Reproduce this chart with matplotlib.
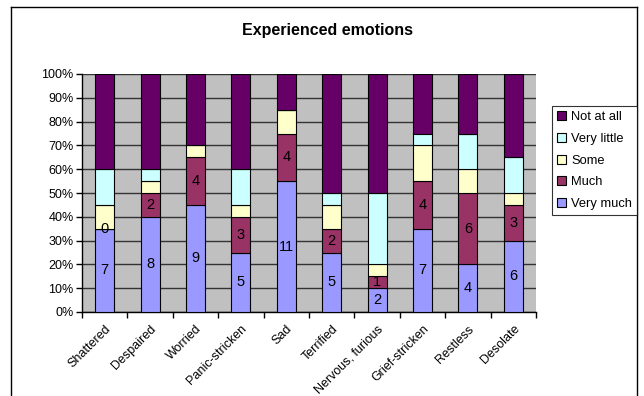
import numpy as np
import matplotlib
matplotlib.use('Agg')
import matplotlib.pyplot as plt
from matplotlib.lines import Line2D
from matplotlib.patches import Patch

plt.rcParams['font.family'] = ['Liberation Sans', 'DejaVu Sans']

# number of answers per emotion (20 respondents)
categories = ['Shattered', 'Despaired', 'Worried', 'Panic-stricken', 'Sad',
              'Terrified', 'Nervous, furious', 'Grief-stricken', 'Restless', 'Desolate']
very_much = [7, 8, 9, 5, 11, 5, 2, 7, 4, 6]
much = [0, 2, 4, 3, 4, 2, 1, 4, 6, 3]
some = [2, 1, 1, 1, 2, 2, 1, 3, 2, 1]
very_little = [3, 1, 0, 3, 0, 1, 6, 1, 3, 3]
not_at_all = [8, 8, 6, 8, 3, 10, 10, 5, 5, 7]

series = [
    ('Very much', very_much, '#9999FF', True),
    ('Much', much, '#993366', True),
    ('Some', some, '#FFFFCC', False),
    ('Very little', very_little, '#CCFFFF', False),
    ('Not at all', not_at_all, '#660066', False),
]

W, H = 644, 396
fig = plt.figure(figsize=(W / 100, H / 100), dpi=100)
ax = fig.add_axes([82 / W, 1 - 312 / H, (536 - 82) / W, (312 - 74) / H])
ax.set_facecolor('#C0C0C0')

totals = np.sum([np.array(s[1]) for s in series], axis=0)
x = np.arange(len(categories))
bottom = np.zeros(len(categories))
for name, vals, color, labelled in series:
    vals = np.array(vals, dtype=float)
    pct = vals / totals * 100
    ax.bar(x, pct, 0.42, bottom=bottom, color=color, edgecolor='black',
           linewidth=0.8, label=name, zorder=3)
    if labelled:
        for xi, v, p, b in zip(x, vals, pct, bottom):
            ax.text(xi, b + p / 2, '%d' % v, ha='center', va='center',
                    fontsize=10.5, color='black', zorder=4)
    bottom += pct

ax.set_xlim(-0.5, len(categories) - 0.5)
ax.set_ylim(0, 100)
ax.set_yticks(np.arange(0, 101, 10))
ax.set_yticklabels(['%d%%' % v for v in range(0, 101, 10)], fontsize=9)
ax.yaxis.grid(True, color='#333333', linewidth=1, zorder=1)
ax.set_axisbelow(True)

ax.set_xticks(x)
ax.set_xticklabels(categories, rotation=45, ha='right', va='top',
                   rotation_mode='anchor', fontsize=9)
ax.set_xticks(np.arange(-0.5, len(categories)), minor=True)
ax.tick_params(axis='x', which='major', length=0, pad=8)
ax.tick_params(axis='x', which='minor', length=4, width=1, direction='out')
ax.tick_params(axis='y', length=4, width=1, direction='out', pad=2)

for side in ['top', 'right']:
    ax.spines[side].set_visible(False)
for side in ['left', 'bottom']:
    ax.spines[side].set_linewidth(1)
    ax.spines[side].set_color('black')

# legend, top entry first
handles = [Patch(facecolor=c, edgecolor='black', linewidth=0.8)
           for _, _, c, _ in series[::-1]]
labels = [n for n, _, _, _ in series[::-1]]
leg = fig.legend(handles, labels, loc='upper right',
                 bbox_to_anchor=(637 / W, 1 - 106 / H), fontsize=9.3,
                 frameon=True, fancybox=False, borderpad=0.4,
                 handlelength=0.7, handleheight=0.7, handletextpad=0.35,
                 labelspacing=0.75, borderaxespad=0)
leg.get_frame().set_edgecolor('black')
leg.get_frame().set_linewidth(0.8)

fig.text(327 / W, 1 - 30 / H, 'Experienced emotions', ha='center', va='center',
         fontsize=11.5, fontweight='bold')

# chart border
lw = 1
fig.add_artist(Line2D([10.5 / W, 10.5 / W], [0, 1 - 7 / H], color='black', lw=lw))
fig.add_artist(Line2D([10.5 / W, 637 / W], [1 - 7 / H, 1 - 7 / H], color='black', lw=lw))
fig.add_artist(Line2D([637 / W, 637 / W], [0, 1 - 7 / H], color='black', lw=lw))

fig.savefig('out.png', dpi=100)
